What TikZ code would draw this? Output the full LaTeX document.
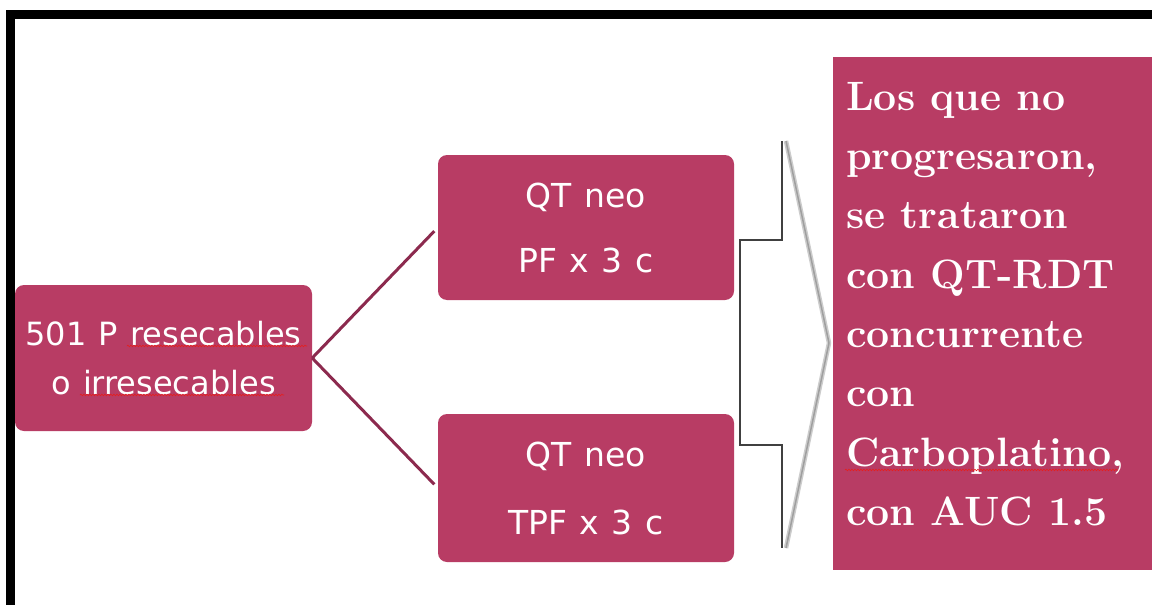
\documentclass[tikz,border=0pt]{standalone}
\usepackage{fontspec}
\newfontfamily\boxfont[WordSpace=1.6]{DejaVu Sans}
\newfontfamily\midfont[WordSpace=1.2]{DejaVu Sans}
\usetikzlibrary{decorations.pathmorphing}
\definecolor{boxc}{RGB}{184,60,100}
\definecolor{linec}{RGB}{140,42,78}
\definecolor{wavy}{RGB}{230,30,30}
\begin{document}
\begin{tikzpicture}[x=1pt,y=-1pt,
  pbox/.style={fill=boxc, draw=none, rounded corners=9pt, text=white, align=center, inner sep=0pt},
  conn/.style={draw=linec, line width=3pt, shorten >=5pt},
  spell/.style={draw=wavy, line width=0.6pt, decorate, decoration={snake, segment length=3pt, amplitude=0.8pt}}]
\useasboundingbox (0,0) rectangle (1152,605);
\fill[white] (0,0) rectangle (1152,605);
\fill[black] (6,10) rectangle (1152,19);
\fill[black] (6,10) rectangle (15,605);

\node[pbox, minimum width=297pt, minimum height=146pt, font=\boxfont\fontsize{32}{49}\selectfont] (src) at (163.5,358) {501 P resecables\\o irresecables};
\node[pbox, minimum width=296pt, minimum height=145pt, font=\midfont\fontsize{33}{65}\selectfont] (pf) at (586,227.5) {QT neo\\PF x 3 c};
\node[pbox, minimum width=296pt, minimum height=148pt, font=\midfont\fontsize{33}{68}\selectfont] (tpf) at (586,488) {QT neo\\TPF x 3 c};

\node[fill=boxc, draw=none, minimum width=319pt, minimum height=513pt, inner sep=0pt] (res) at (992.5,313.5) {};
\node[anchor=north west, inner sep=0pt, text=white, align=left, font=\fontsize{41}{59.3}\selectfont\bfseries] (restext) at (846,82)
  {Los que no\\progresaron,\\se trataron\\con QT-RDT\\concurrente\\con\\Carboplatino,\\con AUC 1.5};

\draw[conn] (src.east) -- (pf.west);
\draw[conn] (src.east) -- (tpf.west);

% bracket arrow
\fill[white] (782,141) -- (786,141) -- (829,343) -- (786,548) -- (782,548) -- (782,445) -- (740,445) -- (740,240) -- (782,240) -- cycle;
\draw[gray!40, line width=4.5pt, line join=round] (786,141) -- (829,343) -- (786,548);
\draw[gray!75, line width=1.5pt, line join=round] (786,141) -- (829,343) -- (786,548);
\draw[black!75, line width=2.6pt] (782,141) -- (782,240) -- (740,240) -- (740,445) -- (782,445) -- (782,548);

% spell-check marks
\draw[spell] (127,346) -- (307,346);
\draw[spell] (80,395) -- (284,395);
\draw[spell] (845,470) -- (1118,470);
\end{tikzpicture}
\end{document}
